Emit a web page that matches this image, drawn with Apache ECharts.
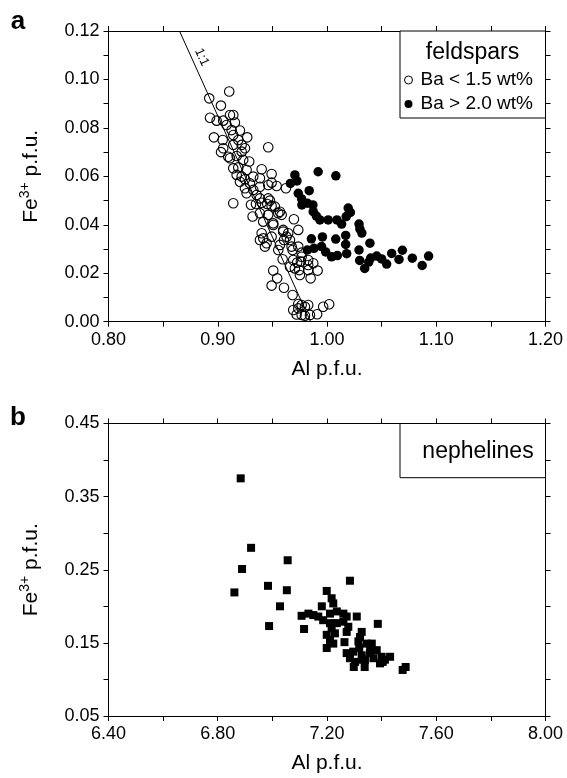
<!DOCTYPE html>
<html><head><meta charset="utf-8">
<script src="https://cdn.jsdelivr.net/npm/echarts@6/dist/echarts.min.js"></script>
<style>html,body{margin:0;padding:0;background:#fff}#c{width:567px;height:778px}</style>
</head><body><div id="c"></div>
<script>
const FONT = '"Liberation Sans", Arial, Helvetica, sans-serif';

// ---- data (Al p.f.u., Fe3+ p.f.u.) ----
const feldsparLowBa = [
 [0.9105,0.0950],[0.8922,0.0922],[0.9029,0.0892],[0.8929,0.0842],[0.8990,0.0830],[0.9050,0.0830],
 [0.9112,0.0853],[0.9142,0.0853],[0.9157,0.0822],[0.9081,0.0812],[0.9127,0.0791],[0.9203,0.0789],
 [0.8965,0.0761],[0.9045,0.0750],[0.9142,0.0771],[0.9188,0.0750],[0.9270,0.0761],[0.9050,0.0716],
 [0.9030,0.0700],[0.9142,0.0730],[0.9219,0.0730],[0.9249,0.0716],[0.9462,0.0720],[0.9096,0.0681],
 [0.9112,0.0675],[0.9173,0.0684],[0.9219,0.0702],[0.9233,0.0668],[0.9288,0.0661],[0.9142,0.0633],
 [0.9188,0.0637],[0.9264,0.0626],[0.9402,0.0629],[0.9173,0.0606],[0.9219,0.0599],[0.9249,0.0588],
 [0.9325,0.0599],[0.9386,0.0592],[0.9493,0.0610],[0.9203,0.0578],[0.9295,0.0571],[0.9386,0.0557],
 [0.9462,0.0564],[0.9539,0.0560],[0.9493,0.0574],[0.9624,0.0551],[0.9249,0.0551],[0.9325,0.0544],
 [0.9264,0.0530],[0.9356,0.0523],[0.9386,0.0509],[0.9462,0.0509],[0.9478,0.0500],[0.9142,0.0489],
 [0.9304,0.0483],[0.9350,0.0486],[0.9402,0.0491],[0.9453,0.0486],[0.9493,0.0478],[0.9319,0.0434],
 [0.9386,0.0448],[0.9416,0.0413],[0.9462,0.0441],[0.9508,0.0399],[0.9554,0.0448],[0.9585,0.0441],
 [0.9697,0.0423],[0.9737,0.0379],[0.9402,0.0365],[0.9416,0.0344],[0.9386,0.0337],[0.9447,0.0324],
 [0.9432,0.0310],[0.9493,0.0351],[0.9569,0.0317],[0.9599,0.0372],[0.9645,0.0365],[0.9606,0.0337],
 [0.9661,0.0337],[0.9554,0.0296],[0.9685,0.0296],[0.9737,0.0310],[0.9768,0.0285],[0.9594,0.0258],
 [0.9691,0.0255],[0.9727,0.0244],[0.9761,0.0248],[0.9661,0.0227],[0.9706,0.0220],[0.9746,0.0213],
 [0.9752,0.0193],[0.9828,0.0213],[0.9508,0.0211],[0.9544,0.0179],[0.9493,0.0149],[0.9606,0.0140],
 [0.9685,0.0110],[0.9737,0.0073],[0.9768,0.0069],[0.9798,0.0062],[0.9828,0.0069],[0.9691,0.0048],
 [0.9737,0.0055],[0.9768,0.0028],[0.9798,0.0025],[0.9722,0.0030],[0.9965,0.0062],[1.0020,0.0072],
 [0.9910,0.0031],[0.9844,0.0028],[0.9850,0.0179],[0.9914,0.0211],[0.9828,0.0255],[0.9874,0.0241],
 [0.9828,0.0234],[0.9768,0.0268],[0.9523,0.0475],[0.9569,0.0454],[0.9599,0.0379],[0.9630,0.0351],
 [0.9676,0.0310],[0.9508,0.0406]
];
const feldsparHighBa = [
 [0.9919,0.0619],[1.0081,0.0602],[0.9706,0.0606],[0.9665,0.0571],[0.9725,0.0581],[0.9837,0.0541],
 [0.9737,0.0530],[0.9768,0.0507],[0.9770,0.0482],[0.9821,0.0489],[0.9871,0.0482],[0.9874,0.0454],
 [0.9903,0.0436],[0.9935,0.0420],[1.0011,0.0420],[1.0091,0.0420],[1.0134,0.0403],[1.0194,0.0469],
 [1.0214,0.0451],[1.0176,0.0434],[1.0293,0.0403],[1.0301,0.0383],[1.0319,0.0366],[1.0393,0.0324],
 [0.9857,0.0342],[0.9958,0.0350],[1.0080,0.0341],[1.0171,0.0356],[1.0171,0.0319],[0.9821,0.0296],
 [0.9881,0.0303],[0.9950,0.0310],[0.9988,0.0288],[1.0042,0.0268],[1.0095,0.0273],[1.0180,0.0281],
 [1.0293,0.0296],[1.0299,0.0253],[1.0345,0.0220],[1.0382,0.0246],[1.0400,0.0263],[1.0455,0.0271],
 [1.0500,0.0259],[1.0546,0.0238],[1.0592,0.0282],[1.0659,0.0257],[1.0690,0.0295],[1.0781,0.0262],
 [1.0871,0.0232],[1.0930,0.0271]
];
const oneToOneLine = [[0.865,0.12],[0.985,0.0]];
const nepheline = [
 [6.884,0.375],[6.922,0.280],[7.056,0.263],[6.889,0.251],[6.861,0.219],[6.984,0.228],[7.053,0.222],
 [7.028,0.200],[6.988,0.173],[7.199,0.221],[7.284,0.235],[7.217,0.211],[7.223,0.204],[7.181,0.200],
 [7.107,0.187],[7.132,0.190],[7.150,0.188],[7.168,0.186],[7.186,0.181],[7.211,0.190],[7.236,0.193],
 [7.260,0.190],[7.272,0.186],[7.309,0.186],[7.211,0.177],[7.236,0.177],[7.260,0.179],[7.278,0.172],
 [7.116,0.169],[7.217,0.170],[7.229,0.163],[7.199,0.161],[7.211,0.154],[7.223,0.149],[7.272,0.165],
 [7.386,0.176],[7.327,0.165],[7.321,0.158],[7.264,0.151],[7.199,0.143],[7.315,0.152],[7.345,0.149],
 [7.364,0.149],[7.272,0.136],[7.296,0.138],[7.284,0.129],[7.303,0.124],[7.327,0.133],[7.339,0.127],
 [7.357,0.136],[7.370,0.129],[7.382,0.140],[7.400,0.131],[7.412,0.127],[7.431,0.131],[7.394,0.122],
 [7.488,0.117],[7.477,0.113],[7.330,0.127],[7.338,0.117],[7.298,0.117],[7.404,0.124],[7.358,0.145],
 [7.318,0.143]
];
const seriesNames = ['Ba < 1.5 wt%', 'Ba > 2.0 wt%', 'nephelines'];
const feldAlTicks = ['0.80','0.90','1.00','1.10','1.20'];
const feldFeTicks = ['0.00','0.02','0.04','0.06','0.08','0.10','0.12'];
const nephAlTicks = ['6.40','6.80','7.20','7.60','8.00'];
const nephFeTicks = ['0.05','0.15','0.25','0.35','0.45'];

// ---- styling helpers ----
const pick = list => v => { const s = (Math.round(v*1000)/1000).toFixed(2); return list.includes(s) ? s : ''; };
function axis(opts, labels, pos, showLabel) {
  return Object.assign({
    type:'value', position:pos, scale:false,
    axisLine:{show:true, onZero:false, lineStyle:{color:'#000', width:1}},
    axisTick:{show:true, inside:false, length:5, lineStyle:{color:'#000', width:1}},
    splitLine:{show:false},
    axisLabel:{show:showLabel, formatter: labels ? pick(labels) : '', fontSize:18, fontFamily:FONT, color:'#000', margin:9, hideOverlap:false, showMinLabel:true, showMaxLabel:true},
  }, opts);
}
const yName = {
  name:'{n|Fe}{s|3+}{n| p.f.u.}', nameLocation:'middle', nameGap:65,
  nameTextStyle:{rich:{
    n:{fontSize:21, fontFamily:FONT, color:'#000', lineHeight:25},
    s:{fontSize:14, fontFamily:FONT, color:'#000', lineHeight:14, verticalAlign:'top'}
  }}
};
const xName = {name:'Al p.f.u.', nameLocation:'middle', nameGap:37, nameTextStyle:{fontSize:21, fontFamily:FONT, color:'#000'}};

const chart = echarts.init(document.getElementById('c'), null, {renderer:'canvas'});
chart.setOption({
  animation:false,
  backgroundColor:'#fff',
  grid:[
    {left:108.5, top:31, width:437, height:290.7},
    {left:108.5, top:423.5, width:437, height:292.5}
  ],
  xAxis:[
    axis(Object.assign({gridIndex:0, min:0.80, max:1.20, interval:0.05}, xName), feldAlTicks, 'bottom', true),
    axis({gridIndex:0, min:0.80, max:1.20, interval:0.05}, null, 'top', false),
    axis(Object.assign({gridIndex:1, min:6.4, max:8.0, interval:0.2}, xName), nephAlTicks, 'bottom', true),
    axis({gridIndex:1, min:6.4, max:8.0, interval:0.2}, null, 'top', false)
  ],
  yAxis:[
    axis(Object.assign({gridIndex:0, min:0, max:0.12, interval:0.01}, yName), feldFeTicks, 'left', true),
    axis({gridIndex:0, min:0, max:0.12, interval:0.01}, null, 'right', false),
    axis(Object.assign({gridIndex:1, min:0.05, max:0.45, interval:0.05}, yName), nephFeTicks, 'left', true),
    axis({gridIndex:1, min:0.05, max:0.45, interval:0.05}, null, 'right', false)
  ],
  legend:{
    show:true, z:20, selectedMode:false, orient:'vertical', left:404, top:70, padding:0,
    itemWidth:14, itemHeight:8, itemGap:4,
    textStyle:{fontSize:19, fontFamily:FONT, color:'#000', lineHeight:20},
    data:[
      {name:seriesNames[0], icon:'circle', itemStyle:{color:'#fff', borderColor:'#000', borderWidth:1, opacity:1}},
      {name:seriesNames[1], icon:'circle', itemStyle:{color:'#000', borderWidth:0, opacity:1}}
    ]
  },
  graphic:[
    {type:'rect', z:1, shape:{x:400, y:31, width:145.5, height:87}, style:{fill:'#fff', stroke:'#000', lineWidth:1}},
    {type:'text', z:6, x:472.5, y:53, style:{text:'feldspars', font:'23px '+FONT, fill:'#000', textAlign:'center', textVerticalAlign:'middle'}},
    {type:'rect', z:1, shape:{x:400, y:423.5, width:145.5, height:54.2}, style:{fill:'#fff', stroke:'#000', lineWidth:1}},
    {type:'text', z:6, x:478, y:452, style:{text:'nephelines', font:'23px '+FONT, fill:'#000', textAlign:'center', textVerticalAlign:'middle'}},
    {type:'text', z:6, x:18, y:22, style:{text:'a', font:'bold 26px '+FONT, fill:'#000', textAlign:'center', textVerticalAlign:'middle'}},
    {type:'text', z:6, x:18, y:418, style:{text:'b', font:'bold 26px '+FONT, fill:'#000', textAlign:'center', textVerticalAlign:'middle'}}
  ],
  series:[
    {
      name:seriesNames[0], type:'scatter', xAxisIndex:0, yAxisIndex:0, data:feldsparLowBa,
      symbol:'circle', symbolSize:9.5,
      itemStyle:{color:'rgba(255,255,255,0)', borderColor:'#000', borderWidth:1.1, opacity:1},
      emphasis:{disabled:true}, z:3,
      markLine:{
        silent:true, symbol:['none','none'], animation:false, z:2,
        lineStyle:{color:'#000', width:1, type:'solid', opacity:1},
        label:{show:true, formatter:'1:1', position:'insideStartTop', distance:[24,3], fontSize:13, fontFamily:FONT, color:'#000'},
        emphasis:{disabled:true},
        data:[[{coord:oneToOneLine[0]},{coord:oneToOneLine[1]}]]
      }
    },
    {
      name:seriesNames[1], type:'scatter', xAxisIndex:0, yAxisIndex:0, data:feldsparHighBa,
      symbol:'circle', symbolSize:9.5, itemStyle:{color:'#000', opacity:1}, emphasis:{disabled:true}, z:4
    },
    {
      name:seriesNames[2], type:'scatter', xAxisIndex:2, yAxisIndex:2, data:nepheline,
      symbol:'rect', symbolSize:8, itemStyle:{color:'#000', opacity:1}, emphasis:{disabled:true}, z:4
    }
  ]
});
</script></body></html>
